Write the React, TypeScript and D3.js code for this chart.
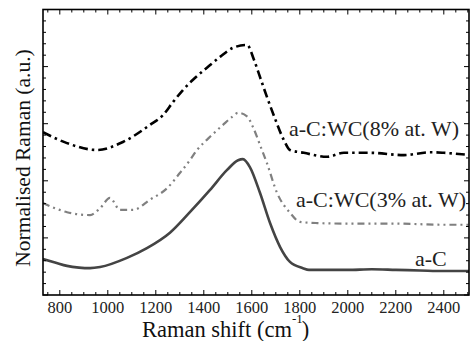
import React from "react";
import * as d3 from "d3";

// Raman shift (cm^-1)
const aC_x = [730, 780, 830, 880, 926, 968, 1080, 1163, 1259, 1342, 1426, 1497, 1543, 1563, 1592, 1634, 1676, 1718, 1759, 1813, 1838, 1900, 2000, 2100, 2200, 2300, 2400, 2510];
const aC_y = [0.63, 0.57, 0.51, 0.48, 0.47, 0.49, 0.65, 0.82, 1.09, 1.45, 1.84, 2.19, 2.36, 2.38, 2.24, 1.79, 1.26, 0.84, 0.58, 0.47, 0.44, 0.44, 0.44, 0.45, 0.44, 0.43, 0.42, 0.42];

const wc3_x = [730, 830, 926, 968, 1009, 1051, 1105, 1176, 1247, 1301, 1342, 1372, 1426, 1480, 1518, 1543, 1580, 1605, 1634, 1663, 1705, 1759, 1801, 1872, 2000, 2200, 2400, 2510];
const wc3_y = [1.61, 1.45, 1.40, 1.52, 1.70, 1.49, 1.49, 1.67, 1.87, 2.14, 2.36, 2.54, 2.77, 2.98, 3.12, 3.19, 3.13, 2.94, 2.63, 2.31, 1.79, 1.44, 1.28, 1.26, 1.25, 1.25, 1.23, 1.23];

const wc8_x = [730, 830, 955, 1063, 1176, 1230, 1272, 1313, 1355, 1413, 1468, 1522, 1580, 1609, 1634, 1663, 1693, 1734, 1759, 1817, 1913, 1984, 2093, 2234, 2343, 2401, 2510];
const wc8_y = [2.85, 2.66, 2.54, 2.68, 2.98, 3.15, 3.38, 3.59, 3.77, 3.98, 4.17, 4.33, 4.38, 4.12, 3.82, 3.47, 3.13, 2.71, 2.54, 2.49, 2.42, 2.49, 2.49, 2.45, 2.50, 2.49, 2.45];

const xMajorTicks = [800, 1000, 1200, 1400, 1600, 1800, 2000, 2200, 2400];
const xMinorTicks = d3.range(750, 2501, 50);
const yMajorTicks = [0, 1, 2, 3, 4, 5];
const yMinorTicks = d3.range(0, 5.01, 0.2);

const seriesLabels = ["a-C", "a-C:WC(3% at. W)", "a-C:WC(8% at. W)"];
const xTitle = "Raman shift (cm";
const yTitle = "Normalised Raman (a.u.)";

const W = 474, H = 341;
const L = 43, R = 469, T = 9.5, B = 295;

function Label(props: { x?: number; y?: number; size: number; anchor?: string; transform?: string; fill?: string; children: React.ReactNode }) {
  return (
    <text x={props.x} y={props.y} transform={props.transform} fontSize={props.size}
      textAnchor={props.anchor || "start"} fill={props.fill || "#222"}
      style={{ fontFamily: `"Liberation Serif"` }}>{props.children}</text>
  );
}

export default function App() {
  const x = d3.scaleLinear().domain([730, 2505]).range([L, R]);
  const y = d3.scaleLinear().domain([0, 5]).range([B, T]);
  const line = d3.line<[number, number]>().x(d => x(d[0])).y(d => y(d[1])).curve(d3.curveMonotoneX);
  const zip = (xs: number[], ys: number[]) => xs.map((v, i) => [v, ys[i]] as [number, number]);

  const series = [
    { label: seriesLabels[2], pts: zip(wc8_x, wc8_y), color: "#000", width: 2.6, dash: "9,4,2.5,4" },
    { label: seriesLabels[1], pts: zip(wc3_x, wc3_y), color: "#808080", width: 2.2, dash: "7,4,2,4,2,4" },
    { label: seriesLabels[0], pts: zip(aC_x, aC_y), color: "#444", width: 2.6, dash: "none" },
  ];

  const majL = 5, minL = 3;
  return (
    <svg width={W} height={H} style={{ position: "absolute", left: 0, top: 0 }}>
      <clipPath id="plotclip">
        <rect x={L} y={T} width={R - L} height={B - T} />
      </clipPath>
      <g clipPath="url(#plotclip)">
        {series.map((s, i) => (
          <path key={i} d={line(s.pts) || ""} fill="none" stroke={s.color} strokeWidth={s.width} strokeDasharray={s.dash} />
        ))}
        <Label x={289} y={136} size={22}>{seriesLabels[2]}</Label>
        <Label x={296} y={207} size={22}>{seriesLabels[1]}</Label>
        <Label x={415} y={266} size={22}>{seriesLabels[0]}</Label>
      </g>
      <g stroke="#000" strokeWidth={1}>
        {xMinorTicks.filter(v => x(v) > L + 1 && x(v) < R - 1).map(v => (
          <g key={"xm" + v}>
            <line x1={x(v)} x2={x(v)} y1={B} y2={B - (xMajorTicks.includes(v) ? majL : minL)} />
            <line x1={x(v)} x2={x(v)} y1={T} y2={T + (xMajorTicks.includes(v) ? majL : minL)} />
          </g>
        ))}
        {yMinorTicks.map((v, i) => {
          const maj = yMajorTicks.some(m => Math.abs(m - v) < 1e-6);
          return (
            <g key={"ym" + i}>
              <line x1={L} x2={L + (maj ? majL : minL)} y1={y(v)} y2={y(v)} />
              <line x1={R} x2={R - (maj ? majL : minL)} y1={y(v)} y2={y(v)} />
            </g>
          );
        })}
      </g>
      <rect x={L} y={T} width={R - L} height={B - T} fill="none" stroke="#000" strokeWidth={1.6} />
      {xMajorTicks.map(v => (
        <Label key={"xl" + v} x={x(v)} y={313} size={16.5} anchor="middle">{v}</Label>
      ))}
      <Label x={142} y={337} size={22.5} fill="#111">
        {xTitle}
        <tspan dy={-14} fontSize={13}>-1</tspan>
        <tspan dy={14} dx={-1}>)</tspan>
      </Label>
      <Label transform="translate(30,158) rotate(-90)" size={21.5} anchor="middle" fill="#111">{yTitle}</Label>
    </svg>
  );
}
